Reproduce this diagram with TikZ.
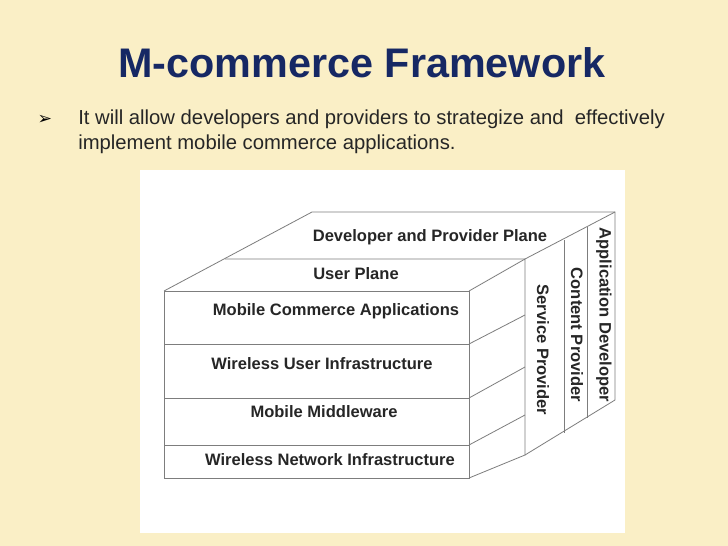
\documentclass[tikz,border=0pt]{standalone}
\usepackage{fontspec}
\setmainfont{Liberation Sans}
\newfontfamily\symfont{DejaVu Sans}
\definecolor{bgc}{RGB}{250,239,198}
\definecolor{navy}{RGB}{22,40,100}
\definecolor{edge}{RGB}{125,125,125}
\begin{document}
\begin{tikzpicture}[x=0.75pt,y=-0.75pt,
  ln/.style={draw=edge,line width=0.6pt},
  lab/.style={font=\fontsize{12.4}{14}\selectfont\bfseries,text=black!85,inner sep=0pt},
  vlab/.style={lab,rotate=-90}]
\useasboundingbox (0,0) rectangle (728,546);
\fill[bgc] (0,0) rectangle (728,546);
\fill[white] (140,170) rectangle (625,533);
\node[font=\fontsize{31}{36}\selectfont\bfseries,text=navy] (title) at (362,63) {M-commerce Framework};
\node[font=\symfont\fontsize{13}{15}\selectfont] (bul) at (45,120) {➢};
\node[anchor=west,align=left,font=\fontsize{15.2}{19}\selectfont,text=black!85,inner sep=0pt] (txt) at (78,132)
 {It will allow developers and providers to strategize and\ \ effectively\\implement mobile commerce applications.};
% front box
\draw[ln] (164,291) rectangle (469,478);
\draw[ln] (164,344) -- (469,344) (164,398) -- (469,398) (164,445) -- (469,445);
% right side
\draw[ln] (469,291) -- (525,259) -- (525,455) -- (469,478);
\draw[ln] (469,344) -- (525,315) (469,398) -- (525,367) (469,445) -- (525,415);
% top faces
\draw[ln] (164,291) -- (312,212) -- (615,212) -- (615,400) -- (525,455);
\draw[ln] (225,259) -- (525,259) -- (615,212);
\draw[ln] (564,240) -- (564,433) (587,227) -- (587,418);
\node[lab] (dpp) at (430,237) {Developer and Provider Plane};
\node[lab] (up) at (356,274) {User Plane};
\node[lab] (mca) at (336,311) {Mobile Commerce Applications};
\node[lab] (wui) at (322,364) {Wireless User Infrastructure};
\node[lab] (mm) at (324,412) {Mobile Middleware};
\node[lab] (wni) at (330,460) {Wireless Network Infrastructure};
\node[vlab] (sp) at (543,350) {Service Provider};
\node[vlab] (cp) at (577,335) {Content Provider};
\node[vlab] (ad) at (604,315) {Application Developer};
\end{tikzpicture}
\end{document}
